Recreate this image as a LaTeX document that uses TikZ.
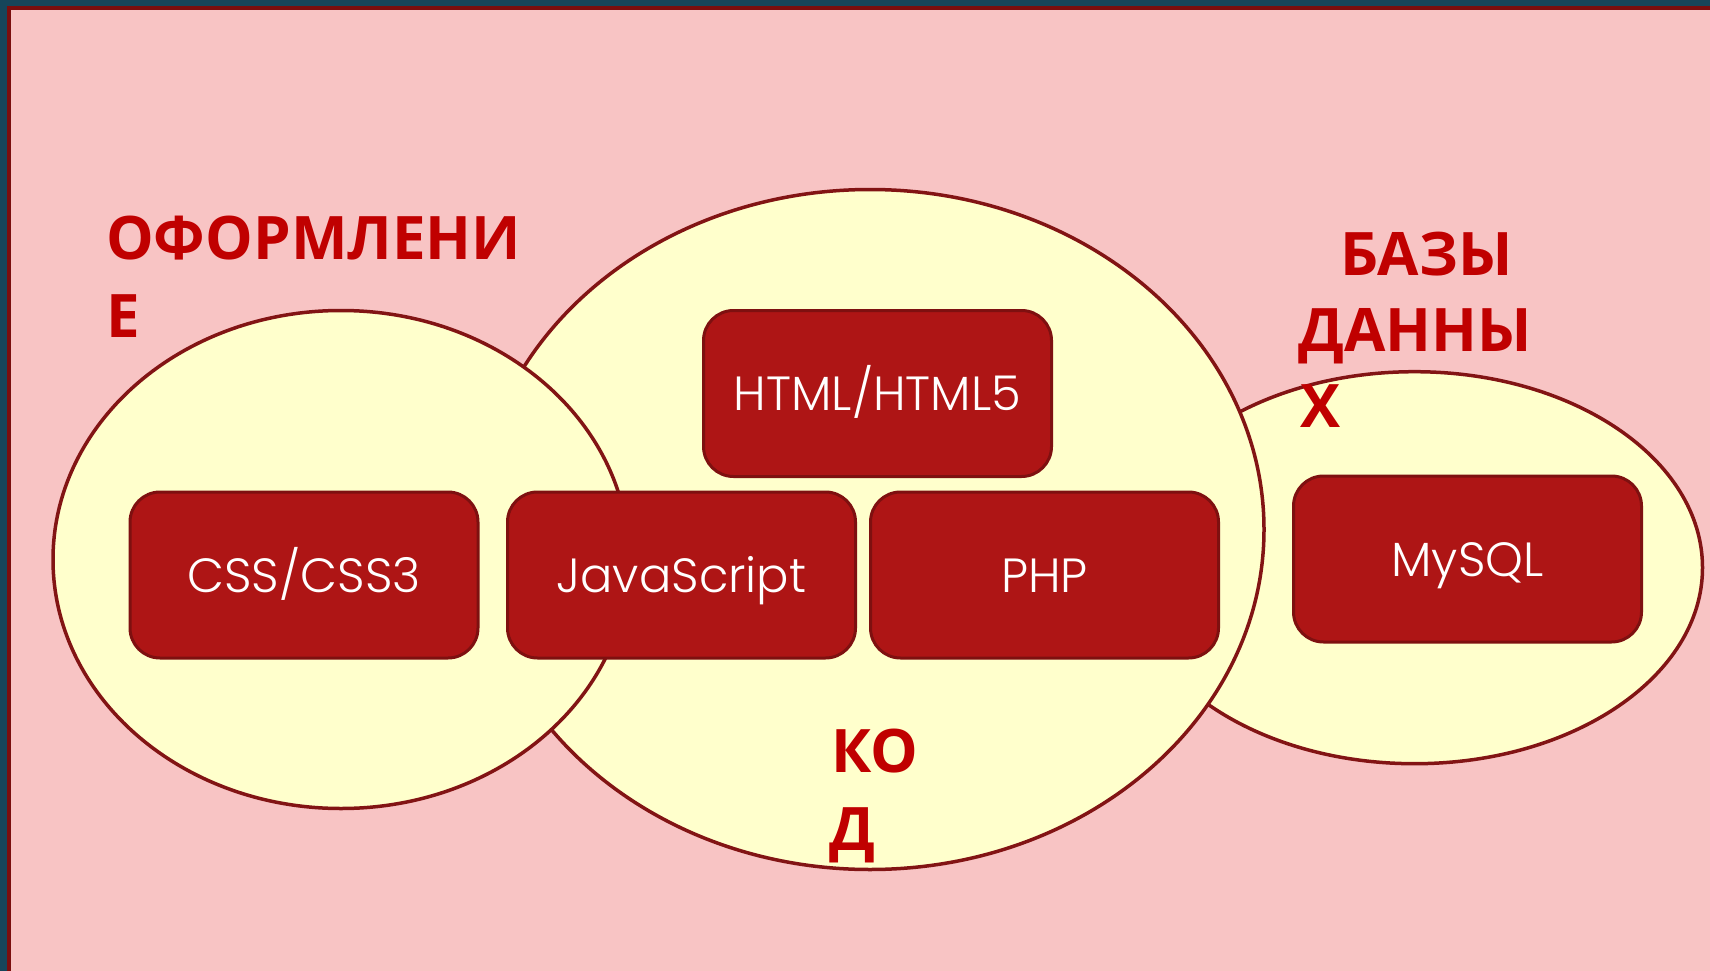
\documentclass[tikz,border=0pt]{standalone}
\usepackage{fontspec}
\usetikzlibrary{shapes.geometric}
\setmainfont{Open Sans}
\newfontfamily\boxfont{Poppins Light}
\newfontfamily\labfont{Open Sans Bold}
\definecolor{outerteal}{HTML}{16455A}
\definecolor{framered}{HTML}{7A0E0E}
\definecolor{bgpink}{HTML}{F8C4C4}
\definecolor{ellfill}{HTML}{FFFFCC}
\definecolor{elldraw}{HTML}{821414}
\definecolor{boxfill}{HTML}{AE1515}
\definecolor{boxdraw}{HTML}{7E1010}
\definecolor{labred}{HTML}{C00000}
\tikzset{
  circ/.style={ellipse, draw=elldraw, fill=ellfill, line width=3.5pt, inner sep=0pt},
  tbox/.style={rectangle, rounded corners=30pt, draw=boxdraw, fill=boxfill, line width=3pt,
    minimum width=348pt, minimum height=166pt, inner sep=0pt, text=white,
    font=\boxfont\fontsize{48}{58}\selectfont, text height=34pt, text depth=0pt},
  lab/.style={anchor=base west, inner sep=0pt, text=labred, font=\labfont\fontsize{60}{70}\selectfont}
}
\begin{document}
\begin{tikzpicture}[x=1pt,y=-1pt]
\useasboundingbox (0,0) rectangle (1710,971);
\fill[outerteal] (0,0) rectangle (1710,971);
\fill[framered] (7,6) rectangle (1710,971);
\fill[bgpink] (10.7,10) rectangle (1710,971);
% ellipses
\node[circ, minimum width=576pt, minimum height=392pt] (dbell) at (1414.5,567.7) {};
\node[circ, minimum width=788pt, minimum height=680pt] (codeell) at (870,529.5) {};
\node[circ, minimum width=576pt, minimum height=498pt] (designell) at (341,559.5) {};
% boxes
\node[tbox] (html) at (877.5,393.5) {HTML/HTML5};
\node[tbox] (css) at (304,575) {CSS/CSS3};
\node[tbox] (js) at (681.5,575) {JavaScript};
\node[tbox] (php) at (1044.5,575) {PHP};
\node[tbox] (mysql) at (1467.5,559) {MySQL};
% labels
\node[lab] (des1) at (106,259.6) {ОФОРМЛЕНИ};
\node[lab] (des2) at (106,337) {Е};
\node[lab] (db1) at (1340,275) {БАЗЫ};
\node[lab] (db2) at (1298,351) {ДАННЫ};
\node[lab] (db3) at (1300,427.5) {Х};
\node[lab] (code1) at (831,772) {КО};
\node[lab] (code2) at (829,850.6) {Д};
\end{tikzpicture}
\end{document}
